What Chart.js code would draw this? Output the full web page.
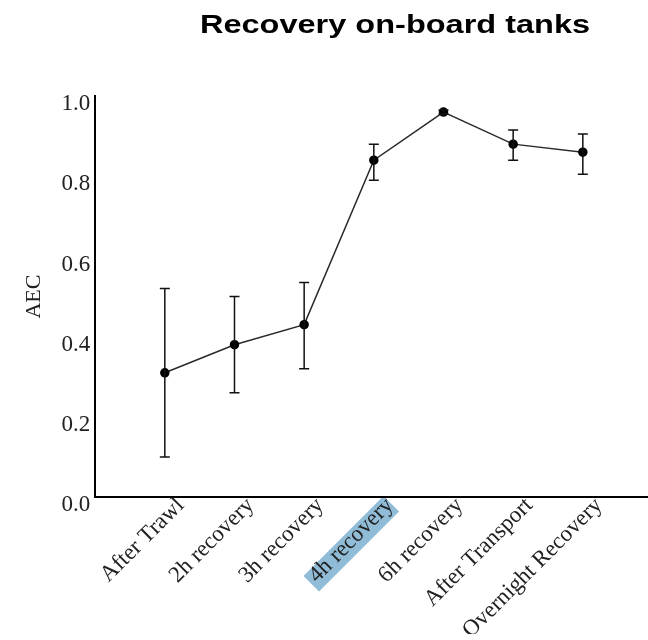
<!DOCTYPE html>
<html>
<head>
<meta charset="utf-8">
<script src="https://cdn.jsdelivr.net/npm/chart.js@4"></script>
<style>
  html, body { margin: 0; padding: 0; background: #fff; overflow: hidden; }
  #wrap { position: relative; width: 648px; height: 640px; overflow: hidden; }
  #titulo {
    position: absolute; left: 200px; top: 10px; white-space: nowrap;
    font: bold 25px "Liberation Sans", Arial, sans-serif; color: #000;
    transform: scaleX(1.3); transform-origin: left top;
  }
  canvas { position: absolute; left: 0; top: 0; }
</style>
</head>
<body>
<div id="wrap">
  <canvas id="grafico" width="658" height="640"></canvas>
  <div id="titulo">Recovery on-board tanks</div>
</div>
<script>
// dados
const categorias = ['After Trawl', '2h recovery', '3h recovery', '4h recovery', '6h recovery', 'After Transport', 'Overnight Recovery'];
const medias = [0.31, 0.38, 0.43, 0.84, 0.96, 0.88, 0.86];
const erroSup = [0.52, 0.50, 0.535, 0.88, 0.965, 0.915, 0.905];
const erroInf = [0.10, 0.26, 0.32, 0.79, 0.955, 0.84, 0.805];
const ticksY = [0, 0.2, 0.4, 0.6, 0.8, 1.0];
const rotuloDestacado = 3; // "4h recovery" marcado em azul

const fonteSerif = '"Liberation Serif", "Times New Roman", serif';
const tamFonte = 23;
const deslocX = 16;
const padX = -10;

// barras de erro desenhadas pelas escalas do gráfico
const barrasErro = {
  id: 'barrasErro',
  afterDatasetsDraw(chart) {
    const { ctx, scales: { x, y } } = chart;
    ctx.save();
    ctx.strokeStyle = '#111';
    ctx.lineWidth = 1.5;
    categorias.forEach((c, i) => {
      const px = x.getPixelForValue(i);
      const top = y.getPixelForValue(erroSup[i]);
      const bot = y.getPixelForValue(erroInf[i]);
      ctx.beginPath();
      ctx.moveTo(px, top); ctx.lineTo(px, bot);
      ctx.moveTo(px - 5, top); ctx.lineTo(px + 5, top);
      ctx.moveTo(px - 5, bot); ctx.lineTo(px + 5, bot);
      ctx.stroke();
    });
    ctx.restore();
  }
};

// realce azul atrás do rótulo selecionado
const realce = {
  id: 'realce',
  beforeDraw(chart) {
    const { ctx, scales: { x } } = chart;
    const px = x.getPixelForValue(rotuloDestacado) + deslocX;
    ctx.save();
    ctx.font = tamFonte + 'px ' + fonteSerif;
    const w = ctx.measureText(categorias[rotuloDestacado]).width;
    ctx.translate(px + 5, x.top + 5 + padX + 8);
    ctx.rotate(-Math.PI / 4);
    ctx.fillStyle = 'rgba(125,176,208,0.85)';
    ctx.fillRect(-w - 9, -11, w + 4, 22);
    ctx.restore();
  }
};

new Chart(document.getElementById('grafico'), {
  type: 'line',
  data: {
    datasets: [{
      data: medias.map((v, i) => ({ x: i, y: v })),
      borderColor: '#2a2a2a',
      borderWidth: 1.5,
      tension: 0,
      pointRadius: 4,
      pointBackgroundColor: '#000',
      pointBorderColor: '#000',
      fill: false
    }]
  },
  options: {
    responsive: false,
    animation: false,
    layout: { padding: { top: 96, left: 21, right: 0, bottom: 6 } },
    plugins: {
      legend: { display: false },
      tooltip: { enabled: false }
    },
    scales: {
      x: {
        type: 'linear',
        min: -1,
        max: 7,
        afterBuildTicks: (s) => { s.ticks = categorias.map((c, i) => ({ value: i })); },
        grid: { display: false, drawTicks: true, tickLength: 5, tickColor: '#000' },
        border: { color: '#000', width: 2 },
        ticks: {
          autoSkip: false,
          minRotation: 45,
          maxRotation: 45,
          padding: padX,
          labelOffset: deslocX,
          color: '#222',
          font: { family: fonteSerif, size: tamFonte },
          callback: (v) => categorias[v] ?? ''
        }
      },
      y: {
        min: 0,
        max: 1,
        afterBuildTicks: (s) => { s.ticks = ticksY.map(v => ({ value: v })); },
        grid: { display: false, drawTicks: true, tickLength: 5, tickColor: '#000' },
        border: { color: '#000', width: 2 },
        title: {
          display: true,
          text: 'AEC',
          color: '#222',
          font: { family: fonteSerif, size: 22 },
          padding: { top: 0, bottom: 14 }
        },
        ticks: {
          padding: 0,
          labelOffset: 8,
          color: '#222',
          font: { family: fonteSerif, size: tamFonte },
          callback: (v) => v.toFixed(1)
        }
      }
    }
  },
  plugins: [realce, barrasErro]
});
</script>
</body>
</html>
